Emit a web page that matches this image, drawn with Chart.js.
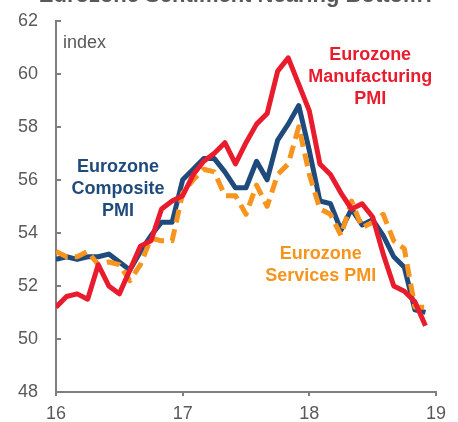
<!DOCTYPE html>
<html><head><meta charset="utf-8">
<script src="https://cdn.jsdelivr.net/npm/chart.js@4.4.1/dist/chart.umd.min.js"></script>
<style>
html,body{margin:0;padding:0;background:#fff;overflow:hidden;width:458px;height:422px;}
#wrap{position:absolute;left:0;top:-17px;width:458px;height:440px;}
</style></head><body>
<div id="wrap"><canvas id="c" width="458" height="440"></canvas></div>
<script>
// ---- data ----
const titleText = 'Eurozone Sentiment Nearing Bottom?';
const axisUnit = 'index';
const startYear = 16;
const monthLabels = ['Feb-16','Mar-16','Apr-16','May-16','Jun-16','Jul-16','Aug-16','Sep-16','Oct-16','Nov-16','Dec-16','Jan-17',
  'Feb-17','Mar-17','Apr-17','May-17','Jun-17','Jul-17','Aug-17','Sep-17','Oct-17','Nov-17','Dec-17','Jan-18',
  'Feb-18','Mar-18','Apr-18','May-18','Jun-18','Jul-18','Aug-18','Sep-18','Oct-18','Nov-18','Dec-18','Jan-19'];
const manufacturing = [51.2,51.6,51.7,51.5,52.8,52.0,51.7,52.6,53.5,53.7,54.9,55.2,
  55.4,56.2,56.7,57.0,57.4,56.6,57.4,58.1,58.5,60.1,60.6,59.6,
  58.6,56.6,56.2,55.5,54.9,55.1,54.6,53.2,52.0,51.8,51.4,50.5];
const composite = [53.0,53.1,53.0,53.1,53.1,53.2,52.9,52.6,53.3,53.9,54.4,54.4,
  56.0,56.4,56.8,56.8,56.3,55.7,55.7,56.7,56.0,57.5,58.1,58.8,
  57.1,55.2,55.1,54.1,54.9,54.3,54.5,53.9,53.1,52.7,51.1,51.0];
const services = [53.3,53.1,53.1,53.3,52.8,52.9,52.8,52.2,52.8,53.8,53.7,53.7,
  55.5,56.0,56.4,56.3,55.4,55.4,54.7,55.8,55.0,56.2,56.6,58.0,
  56.2,54.9,54.7,53.9,55.2,54.2,54.4,54.7,53.7,53.4,51.2,51.2];
const xTickLabels = ['16','17','18','19'];
const yTickValues = [48,50,52,54,56,58,60,62];
const manufName = ['Eurozone','Manufacturing','PMI'];
const compName = ['Eurozone','Composite','PMI'];
const servName = ['Eurozone','Services PMI'];

// ---- styles ----
const RED = '#E91C2D', BLUE = '#1F4A7C', ORANGE = '#F7941D', GREY = '#7F7F7F', TXT = '#595959';
const FAM = '"Liberation Sans", Arial, Helvetica, sans-serif';
Chart.defaults.font.family = FAM;

const toXY = arr => arr.map((v, i) => ({x: startYear + i / 12, y: v, label: monthLabels[i]}));

const notes = [
  {lines: manufName, x: 18.48, y: 60.72, color: RED, bold: true, align: 'center'},
  {lines: compName, x: 16.49, y: 56.48, color: BLUE, bold: true, align: 'center'},
  {lines: servName, x: 18.09, y: 53.2, color: ORANGE, bold: true, align: 'center'},
  {lines: [axisUnit], x: 16.055, y: 61.15, color: TXT, bold: false, align: 'left'}
];

const notesPlugin = {
  id: 'notes',
  afterDraw(chart) {
    const {ctx, scales: {x, y}, chartArea} = chart;
    ctx.save();
    // inward tick marks on the y axis
    ctx.strokeStyle = GREY; ctx.lineWidth = 2;
    yTickValues.forEach(v => {
      const py = Math.round(y.getPixelForValue(v));
      ctx.beginPath(); ctx.moveTo(chartArea.left, py); ctx.lineTo(chartArea.left + 5, py); ctx.stroke();
    });
    ctx.textBaseline = 'middle';
    notes.forEach(n => {
      ctx.fillStyle = n.color;
      ctx.textAlign = n.align;
      ctx.font = (n.bold ? 'bold ' : '') + '18px ' + FAM;
      const px = x.getPixelForValue(n.x), py = y.getPixelForValue(n.y);
      n.lines.forEach((t, j) => ctx.fillText(t, px, py + j * 22));
    });
    ctx.restore();
  }
};

new Chart(document.getElementById('c'), {
  type: 'line',
  data: {
    datasets: [
      {label: 'Eurozone Manufacturing PMI', data: toXY(manufacturing), borderColor: RED, borderWidth: 5, order: 1},
      {label: 'Eurozone Services PMI', data: toXY(services), borderColor: ORANGE, borderWidth: 5, borderDash: [13, 7], order: 2},
      {label: 'Eurozone Composite PMI', data: toXY(composite), borderColor: BLUE, borderWidth: 5, order: 3}
    ]
  },
  options: {
    responsive: false,
    animation: false,
    devicePixelRatio: 1,
    layout: {padding: {left: 0, right: 22, top: 0, bottom: 0}},
    elements: {point: {radius: 0}, line: {tension: 0, borderJoinStyle: 'round', fill: false}},
    plugins: {
      legend: {display: false},
      tooltip: {enabled: false},
      title: {display: true, text: titleText, align: 'end', color: TXT,
        font: {size: 22, weight: 'bold', family: FAM}, padding: {top: 0, bottom: 11.3}}
    },
    scales: {
      x: {
        type: 'linear', min: 16, max: 19,
        afterFit: s => { s.height = 31; },
        border: {display: true, color: GREY, width: 2},
        grid: {drawOnChartArea: false, drawTicks: true, tickLength: 4, color: GREY, lineWidth: 2},
        ticks: {stepSize: 1, padding: 7, color: TXT, font: {size: 18},
          callback: (v) => xTickLabels[Math.round(v - 16)] ?? ''}
      },
      y: {
        min: 48, max: 62,
        afterFit: s => { s.width = 56; },
        border: {display: true, color: GREY, width: 2},
        grid: {drawOnChartArea: false, drawTicks: false},
        ticks: {stepSize: 2, padding: 18, color: TXT, font: {size: 18}}
      }
    }
  },
  plugins: [notesPlugin]
});
</script>
</body></html>
